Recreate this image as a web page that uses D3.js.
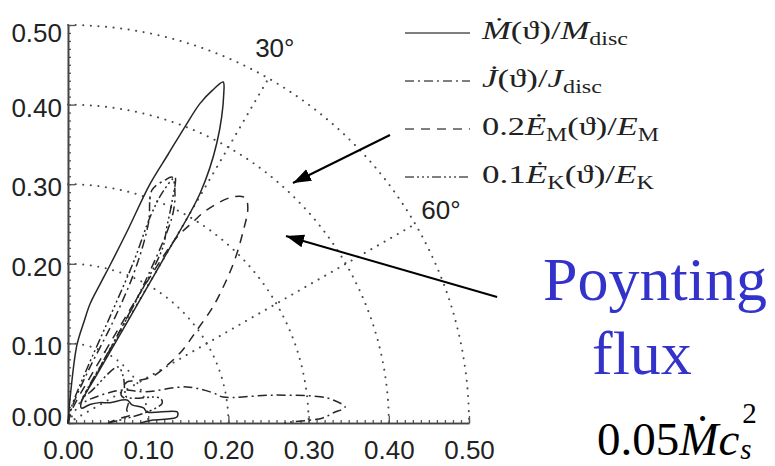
<!DOCTYPE html>
<html>
<head>
<meta charset="utf-8">
<script src="https://cdn.jsdelivr.net/npm/d3@7"></script>
<style>
  body { margin: 0; background: #fff; }
  svg { display: block; }
</style>
</head>
<body>
<svg id="chart" width="775" height="466"></svg>
<script>
// ---- axis ticks -------------------------------------------------------
const tickValues = [0, 0.1, 0.2, 0.3, 0.4, 0.5];
const tickLabels = ["0.00", "0.10", "0.20", "0.30", "0.40", "0.50"];

// ---- polar grid -------------------------------------------------------
const gridRadii = [0.1, 0.2, 0.3, 0.4, 0.5];
const spokeAngles = [30, 60];
const spokeLabels = ["30°", "60°"];

// ---- angular distributions: angle from the pole (deg) and radius ------
// Mdot(theta)/M_disc
const mdotTheta = [0, 5, 6.5, 9, 10.4, 13, 14.8, 17.1, 18.8, 20.3, 21.4, 22.3, 23.3, 24.3, 25.1, 27.8, 29.7, 30.0, 30.2, 30.6, 33, 42, 49.6, 57, 64, 68.6, 74, 78.6, 82, 84.2, 86.8, 88, 89.2, 90];
const mdotR     = [0, 0.04, 0.099, 0.13, 0.152, 0.18, 0.205, 0.254, 0.317, 0.36, 0.400, 0.434, 0.455, 0.470, 0.458, 0.398, 0.333, 0.236, 0.15, 0.07, 0.03, 0.025, 0.036, 0.047, 0.058, 0.079, 0.083, 0.096, 0.0995, 0.137, 0.136, 0.106, 0.095, 0.09];

// Jdot(theta)/J_disc
const jdotTheta = [0, 14, 21, 23.8, 23.5, 21.8, 19.7, 21.6, 22.8, 24.8, 26.6, 28.3, 29.4, 30.1, 33, 42, 52, 58.8, 67.9, 73, 78.2, 80.4, 82.2, 84, 85, 86.7, 87.8, 88.9, 89.7, 90];
const jdotR     = [0, 0.02, 0.07, 0.14, 0.21, 0.27, 0.311, 0.328, 0.335, 0.318, 0.29, 0.21, 0.12, 0.05, 0.03, 0.04, 0.06, 0.08, 0.104, 0.155, 0.185, 0.196, 0.258, 0.316, 0.332, 0.346, 0.331, 0.317, 0.28, 0.27];

// 0.2 Edot_M(theta)/E_M  (Poynting flux)
const emTheta = [0, 18, 26, 28.3, 29.3, 30.2, 31.7, 32.9, 35.8, 38, 39.7, 42.4, 45.4, 48.1, 51.1, 54, 57.3, 59.5, 61, 58, 55, 62, 70, 78, 82, 86, 90];
const emR     = [0, 0.02, 0.07, 0.15, 0.22, 0.27, 0.297, 0.319, 0.35, 0.359, 0.351, 0.323, 0.292, 0.263, 0.232, 0.199, 0.17, 0.145, 0.12, 0.1, 0.09, 0.075, 0.08, 0.075, 0.08, 0.06, 0.05];

// 0.1 Edot_K(theta)/E_K
const ekTheta = [0, 12, 19, 21.5, 22, 21.6, 22.2, 23.4, 25.1, 26.6, 28.2, 29, 29.5, 31, 36, 41.5, 50, 59.7, 66, 74.7, 78, 82, 86, 90];
const ekR     = [0, 0.02, 0.07, 0.15, 0.22, 0.28, 0.315, 0.336, 0.305, 0.275, 0.25, 0.17, 0.09, 0.04, 0.05, 0.094, 0.09, 0.082, 0.08, 0.119, 0.12, 0.1, 0.07, 0.05];

// ---- annotation arrows (data units: tail x, tail y, tip x, tip y) -------
const arrowTail = [[0.4015, 0.3618], [0.535, 0.1583]];
const arrowTip  = [[0.2805, 0.3015], [0.2718, 0.2349]];

// ---- drawing ----------------------------------------------------------
const svg = d3.select("#chart");
const x = d3.scaleLinear().domain([0, 0.5]).range([68, 469]);
const y = d3.scaleLinear().domain([0, 0.5]).range([423, 25]);
const rad = d => d * Math.PI / 180;
const px = (t, r) => x(r * Math.sin(rad(t)));
const py = (t, r) => y(r * Math.cos(rad(t)));
const polarLine = d3.line().x(d => px(d[0], d[1])).y(d => py(d[0], d[1]));
const smoothLine = d3.line().x(d => px(d[0], d[1])).y(d => py(d[0], d[1]))
  .curve(d3.curveCatmullRom.alpha(0.5));

const sans = "'Liberation Sans', Arial, Helvetica, sans-serif";
const serif = "'Liberation Serif', 'Times New Roman', Times, serif";

// dotted grid: quarter circles and the two spokes
const grid = svg.append("g")
  .attr("fill", "none")
  .attr("stroke", "#4a4a4a")
  .attr("stroke-width", 2)
  .attr("stroke-linecap", "round")
  .attr("stroke-dasharray", "0.1,7.5");

const arcSteps = d3.range(0, 90.001, 0.5);
gridRadii.forEach(r => {
  grid.append("path").attr("d", polarLine(arcSteps.map(t => [t, r])));
});
spokeAngles.forEach(t => {
  grid.append("path").attr("d", polarLine([[t, 0], [t, 0.5]]));
});

svg.append("g").selectAll("text")
  .data(spokeAngles)
  .join("text")
  .attr("x", (t, i) => px(t - 1.3 * (i === 0), 0.537))
  .attr("y", (t, i) => py(t - 1.3 * (i === 0), 0.537))
  .attr("dy", "0.36em")
  .attr("text-anchor", "middle")
  .style("font-family", sans)
  .style("font-size", "26px")
  .attr("fill", "#222")
  .text((t, i) => spokeLabels[i]);

// axes with inward major and minor ticks
function styleAxis(g) {
  g.select(".domain").attr("stroke", "#444").attr("stroke-width", 1.6);
  g.selectAll(".tick line").attr("stroke", "#555").attr("stroke-width", 1.3);
  g.selectAll("text").style("font-family", sans).style("font-size", "26px").attr("fill", "#222");
}

const yMinor = svg.append("g").attr("transform", `translate(${x(0)},0)`)
  .call(d3.axisLeft(y).ticks(50).tickSize(-3).tickSizeOuter(0).tickFormat(""));
styleAxis(yMinor);
const yMajor = svg.append("g").attr("transform", `translate(${x(0)},0)`)
  .call(d3.axisLeft(y).tickValues(tickValues).tickSize(-7).tickSizeOuter(0).tickPadding(6)
    .tickFormat((d, i) => tickLabels[i]));
styleAxis(yMajor);
yMajor.selectAll(".tick text").attr("dy", (d, i) => i === 0 ? "0.1em" : (i === tickValues.length - 1 ? "0.62em" : "0.44em"));

const xMinor = svg.append("g").attr("transform", `translate(0,${y(0)})`)
  .call(d3.axisBottom(x).ticks(50).tickSize(-3).tickSizeOuter(0).tickFormat(""));
styleAxis(xMinor);
const xMajor = svg.append("g").attr("transform", `translate(0,${y(0)})`)
  .call(d3.axisBottom(x).tickValues(tickValues).tickSize(-7).tickSizeOuter(0).tickPadding(18)
    .tickFormat((d, i) => tickLabels[i]));
styleAxis(xMajor);

// the four distributions
const series = [
  { theta: mdotTheta, r: mdotR, dash: null },
  { theta: jdotTheta, r: jdotR, dash: "9,4,2,4" },
  { theta: emTheta,   r: emR,   dash: "9,7" },
  { theta: ekTheta,   r: ekR,   dash: "9,3,2,3,2,3,2,3" }
];
const curves = svg.append("g").attr("fill", "none");
series.forEach(s => {
  curves.append("path")
    .attr("d", smoothLine(s.theta.map((t, i) => [t, s.r[i]])))
    .attr("stroke", "#262626")
    .attr("stroke-width", 1.5)
    .attr("stroke-linejoin", "round")
    .attr("stroke-dasharray", s.dash);
});

// legend
const legendTop = 33, legendStep = 48;
const legendTargets = [146, 120, 177, 172];
const legend = svg.append("g");
series.forEach((s, i) => {
  legend.append("line")
    .attr("x1", 405).attr("x2", 470)
    .attr("y1", legendTop + i * legendStep).attr("y2", legendTop + i * legendStep)
    .attr("stroke", "#555").attr("stroke-width", 1.6)
    .attr("stroke-dasharray", s.dash);
});

function legendText(i, parts) {
  const g = legend.append("g").attr("transform", `translate(482,${legendTop + i * legendStep + 6})`);
  const t = g.append("text")
    .style("font-family", serif).style("font-size", "26px").attr("fill", "#222");
  parts.forEach(p => {
    const sp = t.append("tspan").text(p.t);
    if (p.it) sp.style("font-style", "italic");
    if (p.sub) sp.style("font-size", "18px").attr("dy", 6);
    if (p.up) sp.attr("dy", -6);
  });
  const w = t.node().getComputedTextLength();
  t.attr("transform", `scale(${legendTargets[i] / w},1)`);
}
legendText(0, [{t: "M\u0307", it: true}, {t: "(\u03D1)/"}, {t: "M", it: true}, {t: "disc", sub: true}]);
legendText(1, [{t: "J\u0307", it: true}, {t: "(\u03D1)/"}, {t: "J", it: true}, {t: "disc", sub: true}]);
legendText(2, [{t: "0.2"}, {t: "\u0116", it: true}, {t: "M", sub: true}, {t: "(\u03D1)/", up: true}, {t: "E", it: true}, {t: "M", sub: true}]);
legendText(3, [{t: "0.1"}, {t: "\u0116", it: true}, {t: "K", sub: true}, {t: "(\u03D1)/", up: true}, {t: "E", it: true}, {t: "K", sub: true}]);

// arrows pointing at the Poynting-flux lobe
svg.append("defs").append("marker")
  .attr("id", "arrowhead")
  .attr("markerUnits", "userSpaceOnUse")
  .attr("viewBox", "0 -8 20 16")
  .attr("markerWidth", 20).attr("markerHeight", 16)
  .attr("refX", 18).attr("refY", 0)
  .attr("orient", "auto")
  .append("path").attr("d", "M0,-6.5L18,0L0,6.5Z").attr("fill", "#000");

svg.append("g").selectAll("line")
  .data(arrowTail)
  .join("line")
  .attr("x1", d => x(d[0])).attr("y1", d => y(d[1]))
  .attr("x2", (d, i) => x(arrowTip[i][0])).attr("y2", (d, i) => y(arrowTip[i][1]))
  .attr("stroke", "#000").attr("stroke-width", 2)
  .attr("marker-end", "url(#arrowhead)");

// annotation text
const note = svg.append("g").style("font-family", serif).attr("fill", "#3333cc").style("font-size", "62px");
note.append("text").attr("x", 543).attr("y", 300).text("Poynting");
note.append("text").attr("x", 592).attr("y", 374).text("flux");

const f = svg.append("text").attr("x", 597).attr("y", 455)
  .style("font-family", serif).style("font-size", "47px").attr("fill", "#000");
f.append("tspan").text("0.05");
f.append("tspan").style("font-style", "italic").text("M\u0307");
f.append("tspan").style("font-style", "italic").text("c");
const fEnd = 597 + f.node().getComputedTextLength();
svg.append("text").attr("x", fEnd + 3).attr("y", 423)
  .style("font-family", serif).style("font-size", "29px").attr("fill", "#000").text("2");
svg.append("text").attr("x", fEnd + 1).attr("y", 459)
  .style("font-family", serif).style("font-size", "29px").style("font-style", "italic").attr("fill", "#000").text("s");
</script>
</body>
</html>
